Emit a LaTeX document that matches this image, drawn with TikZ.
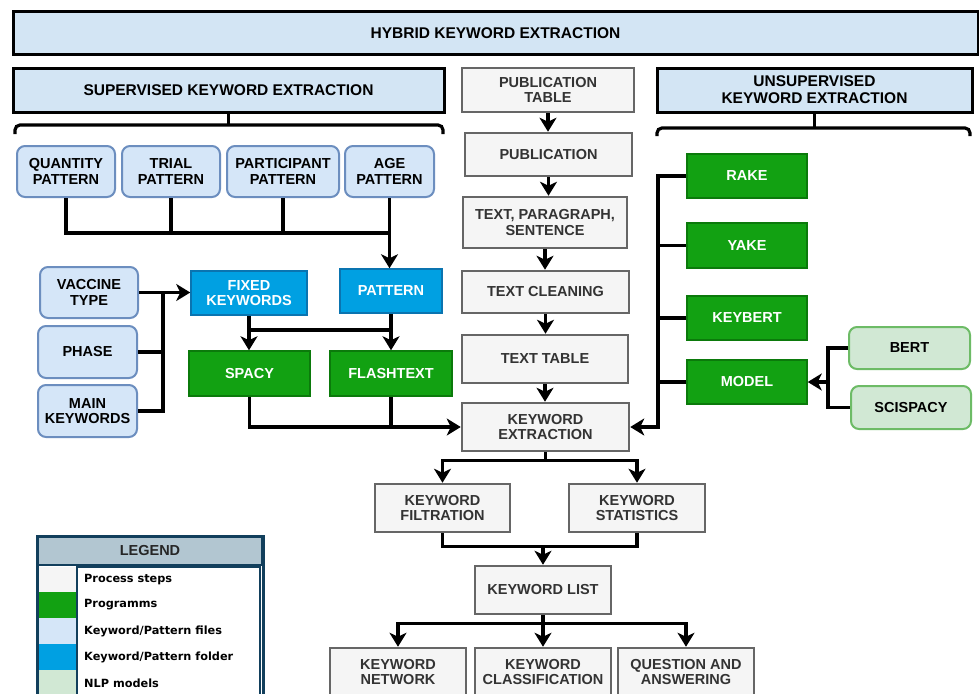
\documentclass[tikz,border=0pt]{standalone}
\usepackage{fontspec}
\setmainfont{Liberation Sans}
\newfontfamily\legfont{DejaVu Sans}
\usetikzlibrary{arrows.meta}
\definecolor{hdrfill}{HTML}{D3E5F4}
\definecolor{procfill}{HTML}{F5F5F5}
\definecolor{procdraw}{HTML}{666666}
\definecolor{progfill}{HTML}{12A112}
\definecolor{progdraw}{HTML}{0B7A0B}
\definecolor{kwfill}{HTML}{D5E6F8}
\definecolor{kwdraw}{HTML}{6C8EBF}
\definecolor{folderfill}{HTML}{00A0E2}
\definecolor{folderdraw}{HTML}{0A74B0}
\definecolor{nlpfill}{HTML}{D1E8D4}
\definecolor{nlpdraw}{HTML}{6DBB66}
\definecolor{legdraw}{HTML}{123F5C}
\definecolor{leghead}{HTML}{B2C6D1}
\tikzset{
  boxtext/.style={font=\fontsize{14.5}{15.5}\selectfont\bfseries, align=center, inner sep=0pt},
  hdrbox/.style={draw=black, fill=hdrfill, line width=3pt, inner sep=0pt, align=center,
    font=\fontsize{15.5}{17}\selectfont\bfseries},
  procbox/.style={boxtext, draw=procdraw, fill=procfill, line width=2.5pt, text=black!80},
  progbox/.style={boxtext, draw=progdraw, fill=progfill, line width=1.5pt, text=white},
  kwbox/.style={boxtext, draw=kwdraw, fill=kwfill, line width=2pt, rounded corners=8pt, text=black},
  folderbox/.style={boxtext, draw=folderdraw, fill=folderfill, line width=1.5pt, text=white},
  nlpbox/.style={boxtext, draw=nlpdraw, fill=nlpfill, line width=2pt, rounded corners=8pt, text=black},
  conn/.style={draw=black, line width=3.2pt},
  arr/.style={conn, -{Stealth[length=14pt,width=17pt,inset=4pt]}},
  legrow/.style={font=\legfont\fontsize{11.3}{12}\selectfont\bfseries, anchor=west, inner sep=0pt},
}
\begin{document}
\begin{tikzpicture}[x=1pt,y=-1pt]
\useasboundingbox (0,0) rectangle (979,693);
\begin{scope}
\clip (0,0) rectangle (979,693);
\fill[white] (0,0) rectangle (979,693);

% headers
\node[hdrbox, minimum width=965pt, minimum height=43pt] (hybrid) at (495.5,33.5) {HYBRID KEYWORD EXTRACTION};
\node[hdrbox, minimum width=431pt, minimum height=44pt] (sup) at (228.5,90) {SUPERVISED KEYWORD EXTRACTION};
\node[hdrbox, minimum width=315pt, minimum height=44pt] (unsup) at (814.5,90) {UNSUPERVISED\\KEYWORD EXTRACTION};

% braces
\draw[conn, rounded corners=5pt] (15,134) -- (15,125) -- (443,125) -- (443,134);
\draw[conn] (sup.south) -- (sup.south |- 0,125);
\draw[conn, rounded corners=5pt] (657,136) -- (657,128) -- (970,128) -- (970,136);
\draw[conn] (unsup.south) -- (unsup.south |- 0,128);

% middle process column
\node[procbox, minimum width=172pt, minimum height=44pt] (pubtable) at (548,90) {PUBLICATION\\TABLE};
\node[procbox, minimum width=167pt, minimum height=43pt] (pub) at (548.5,154.5) {PUBLICATION};
\node[procbox, minimum width=164pt, minimum height=51pt] (tps) at (545,222.5) {TEXT, PARAGRAPH,\\SENTENCE};
\node[procbox, minimum width=167pt, minimum height=42pt] (clean) at (545.5,292) {TEXT CLEANING};
\node[procbox, minimum width=166pt, minimum height=48pt] (ttable) at (545,359) {TEXT TABLE};
\node[procbox, minimum width=167pt, minimum height=48pt] (kwext) at (545.5,427) {KEYWORD\\EXTRACTION};
\node[procbox, minimum width=135pt, minimum height=48pt] (filt) at (442.5,508) {KEYWORD\\FILTRATION};
\node[procbox, minimum width=136pt, minimum height=48pt] (stats) at (637,508) {KEYWORD\\STATISTICS};
\node[procbox, minimum width=136pt, minimum height=48pt] (kwlist) at (543,590) {KEYWORD LIST};
\node[procbox, minimum width=136pt, minimum height=48pt] (net) at (398,672) {KEYWORD\\NETWORK};
\node[procbox, minimum width=136pt, minimum height=48pt] (cls) at (543,672) {KEYWORD\\CLASSIFICATION};
\node[procbox, minimum width=136pt, minimum height=48pt] (qa) at (686,672) {QUESTION AND\\ANSWERING};

% supervised side
\node[kwbox, minimum width=98pt, minimum height=51pt] (quant) at (66,171.5) {QUANTITY\\PATTERN};
\node[kwbox, minimum width=98pt, minimum height=51pt] (trial) at (171,171.5) {TRIAL\\PATTERN};
\node[kwbox, minimum width=112pt, minimum height=51pt] (part) at (283,171.5) {PARTICIPANT\\PATTERN};
\node[kwbox, minimum width=89pt, minimum height=51pt] (age) at (389.5,171.5) {AGE\\PATTERN};
\node[folderbox, minimum width=102pt, minimum height=44pt] (pattern) at (391,291) {PATTERN};
\node[folderbox, minimum width=116pt, minimum height=44pt] (fixed) at (249,293) {FIXED\\KEYWORDS};
\node[kwbox, minimum width=98pt, minimum height=51pt] (vaccine) at (89,292.5) {VACCINE\\TYPE};
\node[kwbox, minimum width=99pt, minimum height=52pt] (phase) at (87.5,352) {PHASE};
\node[kwbox, minimum width=99pt, minimum height=52pt] (mainkw) at (87.5,411) {MAIN\\KEYWORDS};
\node[progbox, minimum width=121pt, minimum height=45pt] (spacy) at (249.5,373.5) {SPACY};
\node[progbox, minimum width=122pt, minimum height=45pt] (flash) at (391,373.5) {FLASHTEXT};

% unsupervised side
\node[progbox, minimum width=120pt, minimum height=44pt] (rake) at (747,176) {RAKE};
\node[progbox, minimum width=120pt, minimum height=45pt] (yake) at (747,245.5) {YAKE};
\node[progbox, minimum width=120pt, minimum height=44pt] (keybert) at (747,318) {KEYBERT};
\node[progbox, minimum width=120pt, minimum height=44pt] (model) at (747,382) {MODEL};
\node[nlpbox, minimum width=121pt, minimum height=42pt] (bert) at (909.5,348) {BERT};
\node[nlpbox, minimum width=120pt, minimum height=43pt] (scis) at (911,407.5) {SCISPACY};

% coordinates for buses
\coordinate (patbus) at (0,233);
\coordinate (kwbus) at (163,0);
\coordinate (fkbus) at (0,330);
\coordinate (ubus) at (658,0);
\coordinate (mbus) at (828,0);

% middle column connectors
\draw[arr] (pubtable.south) -- (pubtable.south |- pub.north);
\draw[arr] (pub.south) -- (pub.south |- tps.north);
\draw[arr] (tps.south) -- (tps.south |- clean.north);
\draw[arr] (clean.south) -- (clean.south |- ttable.north);
\draw[arr] (ttable.south) -- (ttable.south |- kwext.north);
\draw[arr] (kwext.south) -- ++(0,8) -| (filt.north);
\draw[arr] (kwext.south) -- ++(0,8) -| (stats.north);
\draw[conn] (filt.south) -- ++(0,13) -| (stats.south);
\draw[arr] (kwlist.north |- 0,545) -- (kwlist.north);
\draw[arr] (kwlist.south) -- ++(0,8) -| (net.north);
\draw[arr] (kwlist.south) -- ++(0,8) -| (qa.north);
\draw[arr] (kwlist.south) -- (cls.north);

% supervised connectors
\draw[conn] (quant.south) |- (age.south |- patbus);
\draw[conn] (trial.south) -- (trial.south |- patbus);
\draw[conn] (part.south) -- (part.south |- patbus);
\draw[arr] (age.south) -- (age.south |- pattern.north);
\draw[arr] (vaccine.east) -- (vaccine.east -| fixed.west);
\draw[conn] (phase.east) -- (kwbus |- phase.east);
\draw[conn] (mainkw.east) -| (kwbus |- vaccine.east);
\draw[arr] (fixed.south) -- (fixed.south |- spacy.north);
\draw[arr] (pattern.south) -- (pattern.south |- flash.north);
\draw[conn] (fixed.south |- fkbus) -- (pattern.south |- fkbus);
\draw[arr] (spacy.south) |- (kwext.west);
\draw[conn] (flash.south) -- (flash.south |- kwext.west);

% unsupervised connectors
\draw[arr] (rake.west) -| (ubus |- kwext.east) -- (kwext.east);
\draw[conn] (yake.west) -- (ubus |- yake.west);
\draw[conn] (keybert.west) -- (ubus |- keybert.west);
\draw[conn] (model.west) -- (ubus |- model.west);
\draw[conn] (bert.west) -| (mbus |- scis.west) -- (scis.west);
\draw[arr] (mbus |- model.east) -- (model.east);

% legend
\fill[white] (37,536) rectangle (263,700);
\node[draw=legdraw, fill=leghead, line width=1.5pt, minimum width=224pt, minimum height=29pt, inner sep=0pt,
  font=\fontsize{14.5}{15}\selectfont\bfseries, text=black!85] (leghdr) at (150,550.5) {LEGEND};
\fill[procfill] (39,567) rectangle (76,592);
\fill[progfill] (39,592) rectangle (76,618);
\fill[kwfill] (39,618) rectangle (76,644);
\fill[folderfill] (39,644) rectangle (76,670);
\fill[nlpfill] (39,670) rectangle (76,700);
\draw[legdraw, line width=2pt] (77,700) -- (77,567) -- (260,567) -- (260,700);
\node[legrow] (l1) at (84,579.5) {Process steps};
\node[legrow] (l2) at (84,605) {Programms};
\node[legrow] (l3) at (84,631) {Keyword/Pattern files};
\node[legrow] (l4) at (84,657) {Keyword/Pattern folder};
\node[legrow] (l5) at (84,683) {NLP models};
\draw[legdraw, line width=3pt] (37,700) -- (37,536) -- (263,536) -- (263,700);
\end{scope}
\end{tikzpicture}
\end{document}
